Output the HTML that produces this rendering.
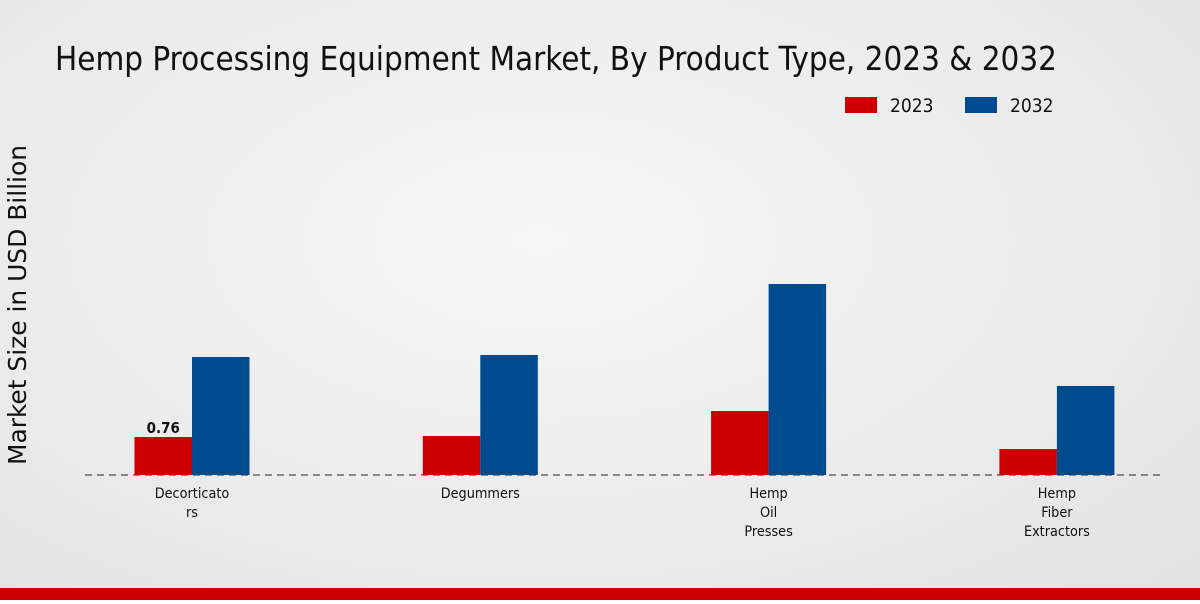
<!DOCTYPE html>
<html><head><meta charset="utf-8"><style>
body{margin:0;width:1200px;height:600px;overflow:hidden;font-family:"DejaVu Sans Condensed","DejaVu Sans","Liberation Sans",sans-serif;}
#wrap{position:relative;width:1200px;height:600px;background:radial-gradient(ellipse at 45% 40%,#f6f6f6 0%,#ebebeb 60%,#e2e2e2 100%);}
</style></head><body>
<div id="wrap">
<svg id="chart" width="1200" height="600" xmlns="http://www.w3.org/2000/svg">
<text x="55" y="70" font-size="33" textLength="1002" lengthAdjust="spacingAndGlyphs" fill="#111" font-family="DejaVu Sans Condensed, DejaVu Sans, sans-serif">Hemp Processing Equipment Market, By Product Type, 2023 &amp; 2032</text>
<g>
<rect x="845" y="97" width="32" height="16" fill="#cc0000"/>
<text x="890" y="112" font-size="19" fill="#111">2023</text>
<rect x="965" y="97" width="32" height="16" fill="#004a8f"/>
<text x="1010" y="112" font-size="19" fill="#111">2032</text>
</g>
<text transform="translate(26,305) rotate(-90)" text-anchor="middle" font-size="25" textLength="320" lengthAdjust="spacingAndGlyphs" fill="#111">Market Size in USD Billion</text>
<line x1="85" y1="475" x2="1165" y2="475" stroke="#222" stroke-dasharray="7,5" stroke-width="1"/>
<g id="bars"></g>
<rect x="0" y="588" width="1200" height="12" fill="#cc0000"/>
</svg>
</div>
<script>
const categories=[["Decorticato","rs"],["Degummers"],["Hemp","Oil","Presses"],["Hemp","Fiber","Extractors"]];
const values2023=[0.76,0.78,1.28,0.52];
const values2032=[2.36,2.40,3.82,1.78];
const valueLabels=["0.76","","",""];
const baseY=475, pxPerUnit=50;
function yScale(v){return baseY-v*pxPerUnit;}
function xCenter(i){return 192+i*288.3;}
const g=document.getElementById('bars');
const NS="http://www.w3.org/2000/svg";
categories.forEach((cat,i)=>{
  const cx=xCenter(i);
  [[values2023,"#cc0000",-57.5,"2023"],[values2032,"#004a8f",0,"2032"]].forEach(([arr,col,off,yr])=>{
    const r=document.createElementNS(NS,'rect');
    r.setAttribute('x',cx+off);r.setAttribute('width',57.5);
    r.setAttribute('y',yScale(arr[i]));r.setAttribute('height',baseY-yScale(arr[i]));
    r.setAttribute('fill',col);
    
    
    g.appendChild(r);
  });
  if(valueLabels[i]){
    const t=document.createElementNS(NS,'text');
    t.setAttribute('x',cx-28.75);t.setAttribute('y',yScale(values2023[i])-4);
    t.setAttribute('text-anchor','middle');t.setAttribute('font-size','15');t.setAttribute('font-weight','bold');
    t.setAttribute('fill','#111');t.textContent=valueLabels[i];
    
    
    g.appendChild(t);
  }
  cat.forEach((line,j)=>{
    const t=document.createElementNS(NS,'text');
    t.setAttribute('x',cx);t.setAttribute('y',498+j*19);
    t.setAttribute('text-anchor','middle');t.setAttribute('font-size','14.3');t.setAttribute('fill','#111');
    t.textContent=line;
    
    
    g.appendChild(t);
  });
});
</script>
</body></html>
